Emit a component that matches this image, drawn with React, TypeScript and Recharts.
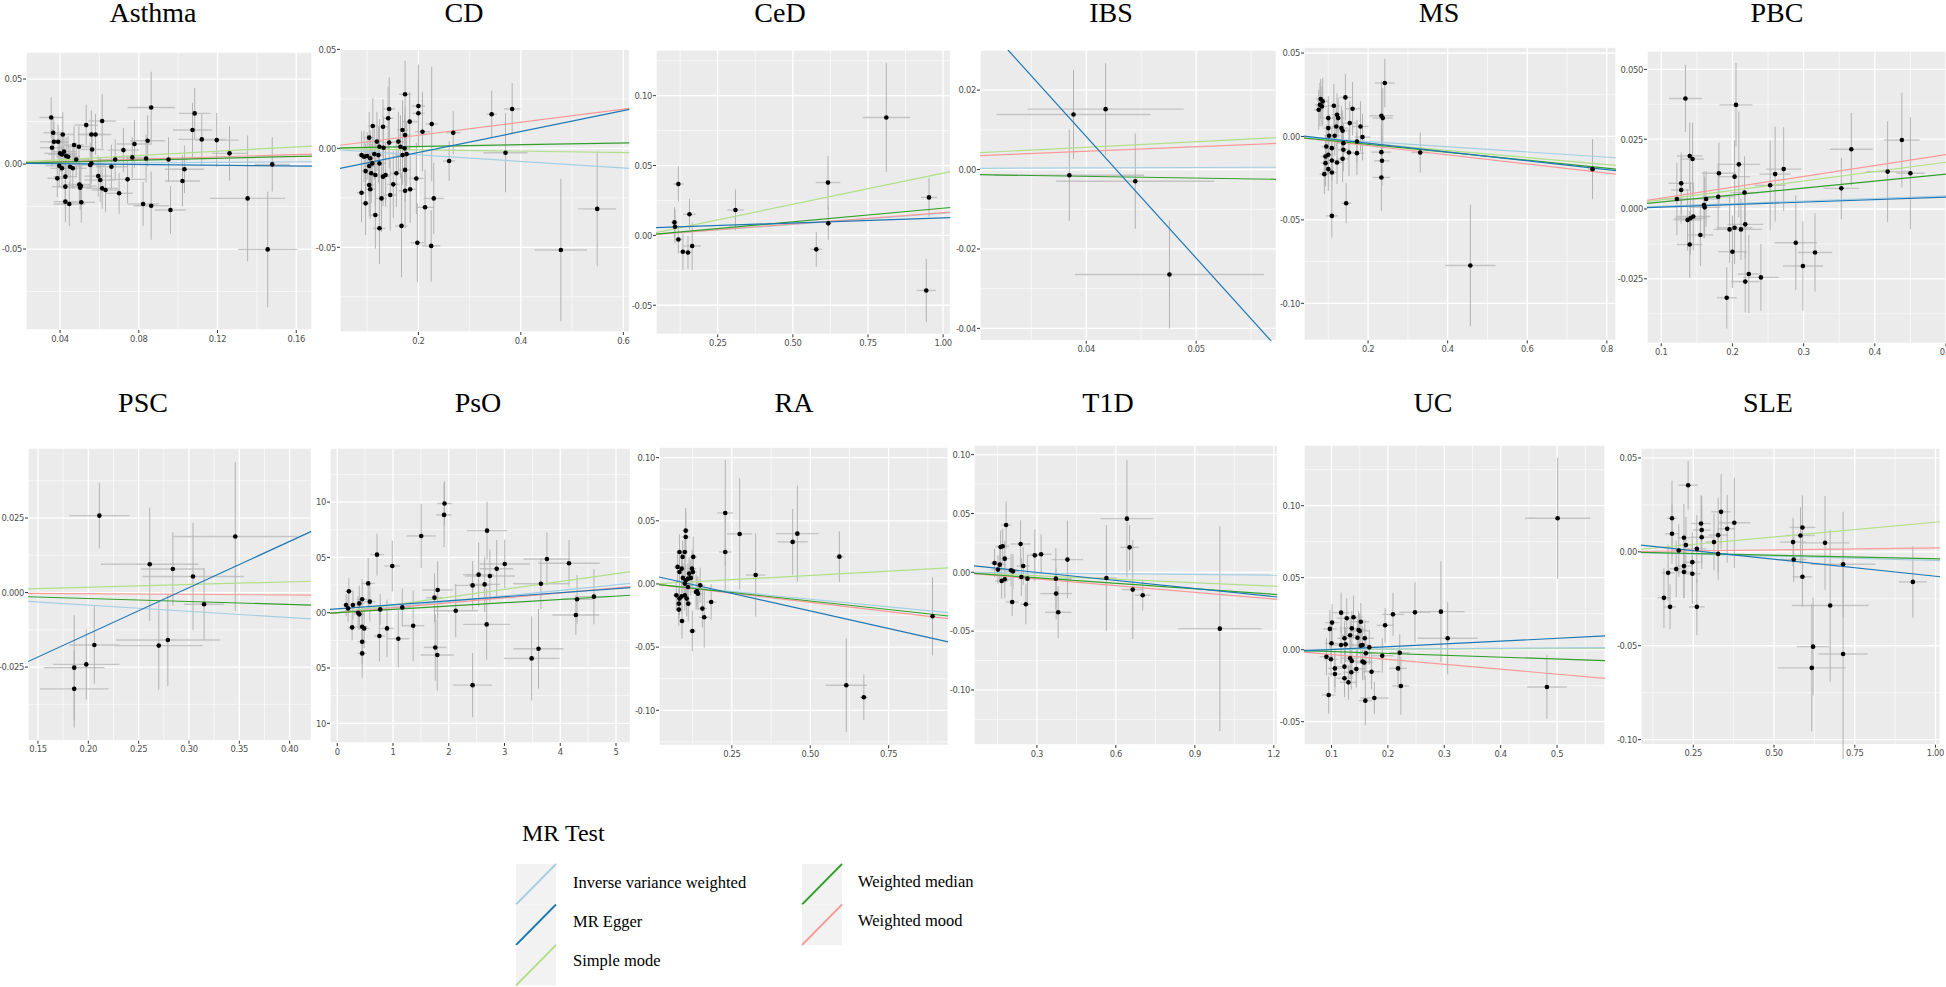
import React from 'react';
import { ScatterChart, Scatter, XAxis, YAxis, CartesianGrid, ErrorBar, ReferenceLine } from 'recharts';

// ---------- methods ----------
const methodNames = ['Inverse variance weighted', 'MR Egger', 'Simple mode', 'Weighted median', 'Weighted mood'];
const methodColors = ['#a6cee3', '#1f78b4', '#b2df8a', '#33a02c', '#fb9a99'];
const drawOrder = [2, 0, 4, 3, 1];

// ---------- data: [beta exposure, beta outcome, se exposure, se outcome] ----------
const asthmaPts = [
  [0.0355, 0.0274, 0.006, 0.012], [0.0365, 0.0184, 0.005, 0.010], [0.0359, 0.0096, 0.006, 0.011], [0.0369, 0.0131, 0.007, 0.012],
  [0.0390, 0.0131, 0.005, 0.010], [0.0414, 0.0174, 0.006, 0.013], [0.0400, 0.0063, 0.008, 0.011], [0.0410, 0.0057, 0.007, 0.012],
  [0.0420, 0.0073, 0.006, 0.010], [0.0431, 0.0047, 0.005, 0.011], [0.0441, 0.0043, 0.006, 0.012], [0.0396, -0.0010, 0.007, 0.013],
  [0.0410, -0.0025, 0.006, 0.012], [0.0386, -0.0084, 0.005, 0.011], [0.0427, -0.0074, 0.006, 0.012], [0.0427, -0.0133, 0.007, 0.013],
  [0.0427, -0.0221, 0.006, 0.012], [0.0447, -0.0235, 0.008, 0.013], [0.0451, -0.0016, 0.006, 0.011], [0.0465, -0.0025, 0.007, 0.012],
  [0.0471, 0.0112, 0.005, 0.011], [0.0496, 0.0102, 0.006, 0.012], [0.0482, 0.0027, 0.007, 0.010], [0.0498, -0.0120, 0.006, 0.011],
  [0.0506, -0.0129, 0.008, 0.012], [0.0502, -0.0139, 0.006, 0.013], [0.0508, -0.0225, 0.007, 0.012], [0.0533, 0.0229, 0.006, 0.012],
  [0.0559, 0.0174, 0.007, 0.014], [0.0580, 0.0174, 0.008, 0.012], [0.0563, 0.0086, 0.006, 0.011], [0.0559, 0.0004, 0.007, 0.012],
  [0.0553, -0.0006, 0.008, 0.013], [0.0594, -0.0071, 0.007, 0.012], [0.0604, -0.0094, 0.008, 0.013], [0.0614, 0.0253, 0.007, 0.016],
  [0.0614, -0.0143, 0.008, 0.012], [0.0631, -0.0153, 0.007, 0.013], [0.0661, -0.0016, 0.008, 0.013], [0.0680, 0.0027, 0.009, 0.012],
  [0.0700, -0.0172, 0.007, 0.012], [0.0722, 0.0082, 0.008, 0.013], [0.0743, -0.0090, 0.009, 0.014], [0.0767, 0.0039, 0.008, 0.012],
  [0.0778, 0.0118, 0.009, 0.014], [0.0822, -0.0235, 0.008, 0.013], [0.0837, 0.0033, 0.010, 0.014], [0.0845, 0.0137, 0.009, 0.015],
  [0.0863, 0.0333, 0.012, 0.021], [0.0863, -0.0245, 0.009, 0.020], [0.0951, 0.0027, 0.010, 0.013], [0.0961, -0.0270, 0.008, 0.014],
  [0.1022, -0.0100, 0.009, 0.015], [0.1032, -0.0031, 0.010, 0.014], [0.1073, 0.0200, 0.010, 0.016], [0.1084, 0.0298, 0.008, 0.015],
  [0.1120, 0.0145, 0.012, 0.015], [0.1196, 0.0141, 0.011, 0.016], [0.1261, 0.0063, 0.009, 0.016], [0.1353, -0.0202, 0.019, 0.037],
  [0.1455, -0.0502, 0.015, 0.034], [0.1478, -0.0002, 0.009, 0.016],
];
const asthmaSlope = [0.008, -0.011, 0.063, 0.028, 0.035];
const asthmaIcpt = [0, 0.00065, 0, 0, 0];

const cdPts = [
  [0.174, 0.0273, 0.012, 0.017], [0.143, 0.0199, 0.012, 0.016], [0.200, 0.0214, 0.013, 0.021], [0.200, 0.0177, 0.012, 0.017],
  [0.183, 0.0135, 0.015, 0.015], [0.226, 0.0123, 0.012, 0.029], [0.208, 0.0084, 0.015, 0.020], [0.268, 0.0079, 0.014, 0.011],
  [0.169, 0.0093, 0.011, 0.015], [0.174, 0.0067, 0.012, 0.014], [0.141, 0.0152, 0.010, 0.016], [0.131, 0.0109, 0.012, 0.014],
  [0.111, 0.0113, 0.010, 0.014], [0.104, 0.0054, 0.009, 0.013], [0.119, 0.0034, 0.011, 0.015], [0.124, 0.0008, 0.010, 0.014],
  [0.132, 0.0003, 0.012, 0.016], [0.143, 0.0029, 0.011, 0.013], [0.161, 0.0034, 0.012, 0.015], [0.165, 0.0008, 0.013, 0.016],
  [0.173, 0.0000, 0.012, 0.017], [0.169, -0.0034, 0.014, 0.015], [0.177, -0.0029, 0.013, 0.016], [0.089, -0.0034, 0.008, 0.012],
  [0.094, -0.0042, 0.009, 0.013], [0.100, -0.0039, 0.010, 0.012], [0.106, -0.0050, 0.009, 0.014], [0.114, -0.0029, 0.010, 0.013],
  [0.122, -0.0034, 0.011, 0.014], [0.104, -0.0089, 0.010, 0.015], [0.110, -0.0076, 0.011, 0.014], [0.124, -0.0076, 0.012, 0.015],
  [0.097, -0.0115, 0.009, 0.014], [0.108, -0.0126, 0.010, 0.015], [0.116, -0.0135, 0.011, 0.016], [0.131, -0.0143, 0.012, 0.015],
  [0.136, -0.0135, 0.011, 0.016], [0.157, -0.0126, 0.013, 0.017], [0.174, -0.0109, 0.012, 0.016], [0.196, -0.0152, 0.014, 0.018],
  [0.104, -0.0185, 0.010, 0.016], [0.106, -0.0207, 0.009, 0.015], [0.151, -0.0182, 0.012, 0.017], [0.089, -0.0224, 0.009, 0.015],
  [0.145, -0.0236, 0.012, 0.018], [0.128, -0.0253, 0.011, 0.017], [0.174, -0.0214, 0.013, 0.019], [0.184, -0.0207, 0.012, 0.017],
  [0.097, -0.0278, 0.009, 0.016], [0.230, -0.0253, 0.020, 0.018], [0.116, -0.0337, 0.010, 0.017], [0.213, -0.0298, 0.016, 0.019],
  [0.124, -0.0404, 0.012, 0.018], [0.167, -0.0392, 0.012, 0.026], [0.198, -0.0477, 0.013, 0.020], [0.225, -0.0493, 0.018, 0.018],
  [0.260, -0.0064, 0.012, 0.010], [0.343, 0.0172, 0.010, 0.012], [0.383, 0.0199, 0.016, 0.013], [0.370, -0.0022, 0.043, 0.020],
  [0.478, -0.0514, 0.051, 0.036], [0.549, -0.0306, 0.037, 0.029],
];
const cdSlope = [-0.0165, 0.0527, -0.0036, 0.0046, 0.033];
const cdIcpt = [0, -0.0126, 0, 0, 0];

const cedPts = [
  [0.119, 0.0368, 0.018, 0.0125], [0.106, 0.0093, 0.012, 0.011], [0.108, 0.0062, 0.010, 0.012], [0.119, -0.0029, 0.015, 0.010],
  [0.134, -0.0117, 0.012, 0.013], [0.151, -0.0122, 0.014, 0.012], [0.156, 0.0151, 0.020, 0.011], [0.165, -0.0076, 0.029, 0.017],
  [0.309, 0.0182, 0.027, 0.0146], [0.578, -0.0100, 0.020, 0.0125], [0.617, 0.0378, 0.041, 0.019], [0.618, 0.0086, 0.010, 0.012],
  [0.811, 0.0844, 0.079, 0.039], [0.953, 0.0272, 0.027, 0.0137], [0.944, -0.0394, 0.032, 0.0227],
];
const cedSlope = [0.0158, 0.00735, 0.0445, 0.0195, 0.0162];
const cedIcpt = [0, 0.0052, 0, 0, 0];

const ibsPts = [
  [0.03884, 0.01384, 0.0070, 0.0112], [0.04176, 0.0152, 0.0071, 0.0116], [0.03846, -0.00143, 0.0068, 0.0115],
  [0.04446, -0.00294, 0.0072, 0.012], [0.04757, -0.02643, 0.0086, 0.0136],
];
const ibsSlope = [0.01, -3.06, 0.14, -0.043, 0.115];
const ibsIcpt = [0, 0.1307, 0, 0, 0];

const msPts = [
  [0.242, 0.0320, 0.025, 0.0145], [0.143, 0.0234, 0.015, 0.014], [0.081, 0.0224, 0.012, 0.012], [0.086, 0.0210, 0.013, 0.014],
  [0.079, 0.0190, 0.012, 0.013], [0.084, 0.0180, 0.014, 0.012], [0.076, 0.0160, 0.012, 0.012], [0.114, 0.0184, 0.015, 0.013],
  [0.161, 0.0166, 0.018, 0.016], [0.122, 0.0130, 0.014, 0.013], [0.125, 0.0110, 0.015, 0.012], [0.100, 0.0110, 0.013, 0.013],
  [0.2335, 0.0124, 0.030, 0.021], [0.237, 0.0110, 0.025, 0.018], [0.154, 0.0080, 0.016, 0.013], [0.181, 0.0060, 0.020, 0.015],
  [0.120, 0.0060, 0.015, 0.012], [0.133, 0.0050, 0.016, 0.013], [0.136, 0.0034, 0.015, 0.012], [0.100, 0.0050, 0.013, 0.012],
  [0.116, 0.0004, 0.014, 0.012], [0.102, 0.0004, 0.012, 0.013], [0.186, -0.0004, 0.020, 0.014], [0.172, -0.0030, 0.018, 0.013],
  [0.138, -0.0040, 0.016, 0.012], [0.095, -0.0060, 0.012, 0.013], [0.109, -0.0070, 0.014, 0.012], [0.138, -0.0080, 0.015, 0.013],
  [0.2335, -0.0094, 0.025, 0.016], [0.152, -0.0096, 0.016, 0.014], [0.172, -0.0100, 0.018, 0.013], [0.100, -0.0110, 0.013, 0.012],
  [0.093, -0.0120, 0.012, 0.013], [0.331, -0.0096, 0.022, 0.012], [0.136, -0.0134, 0.015, 0.014], [0.235, -0.0146, 0.020, 0.015],
  [0.122, -0.0156, 0.014, 0.013], [0.109, -0.0144, 0.013, 0.012], [0.093, -0.0160, 0.012, 0.014], [0.100, -0.0196, 0.013, 0.013],
  [0.109, -0.0216, 0.014, 0.013], [0.090, -0.0226, 0.012, 0.012], [0.2335, -0.0246, 0.022, 0.020], [0.764, -0.0196, 0.012, 0.018],
  [0.145, -0.0400, 0.013, 0.012], [0.109, -0.0476, 0.015, 0.013], [0.457, -0.0773, 0.063, 0.0365],
];
const msSlope = [-0.0155, -0.0263, -0.0211, -0.0238, -0.0275];
const msIcpt = [0, 0.0012, 0, 0, 0];

const pbcPts = [
  [0.134, 0.0396, 0.023, 0.012], [0.205, 0.0373, 0.023, 0.015], [0.140, 0.0190, 0.018, 0.012], [0.144, 0.0179, 0.016, 0.013],
  [0.438, 0.0247, 0.025, 0.017], [0.367, 0.0214, 0.030, 0.013], [0.209, 0.0160, 0.030, 0.019], [0.272, 0.0143, 0.025, 0.015],
  [0.181, 0.0128, 0.024, 0.011], [0.260, 0.0125, 0.022, 0.017], [0.203, 0.0116, 0.022, 0.013], [0.418, 0.0134, 0.030, 0.018],
  [0.450, 0.0128, 0.020, 0.020], [0.128, 0.0092, 0.018, 0.011], [0.253, 0.0085, 0.022, 0.016], [0.353, 0.0074, 0.025, 0.011],
  [0.128, 0.0068, 0.014, 0.012], [0.217, 0.0059, 0.020, 0.013], [0.180, 0.0044, 0.022, 0.012], [0.122, 0.0036, 0.018, 0.013],
  [0.163, 0.0036, 0.020, 0.010], [0.160, 0.0014, 0.025, 0.012], [0.161, 0.0006, 0.022, 0.011], [0.137, -0.0039, 0.020, 0.011],
  [0.141, -0.0033, 0.022, 0.013], [0.145, -0.0027, 0.024, 0.012], [0.196, -0.0073, 0.022, 0.012], [0.203, -0.0067, 0.025, 0.013],
  [0.212, -0.0073, 0.030, 0.011], [0.218, -0.0055, 0.025, 0.012], [0.155, -0.0093, 0.018, 0.011], [0.140, -0.0127, 0.018, 0.012],
  [0.289, -0.0121, 0.030, 0.017], [0.316, -0.0156, 0.024, 0.014], [0.200, -0.0153, 0.020, 0.013], [0.299, -0.0204, 0.028, 0.016],
  [0.223, -0.0233, 0.015, 0.014], [0.240, -0.0245, 0.025, 0.012], [0.218, -0.0260, 0.020, 0.011], [0.192, -0.0318, 0.014, 0.011],
];
const pbcSlope = [0.0095, 0.0089, 0.0335, 0.025, 0.039];
const pbcIcpt = [0, -0.0002, 0, 0, 0];

const pscPts = [
  [0.211, 0.0258, 0.030, 0.011], [0.261, 0.0095, 0.0485, 0.019], [0.284, 0.0079, 0.0315, 0.0123], [0.304, 0.0054, 0.0505, 0.018],
  [0.346, 0.0188, 0.062, 0.025], [0.315, -0.0039, 0.020, 0.012], [0.206, -0.0176, 0.025, 0.013], [0.270, -0.0178, 0.0435, 0.0148],
  [0.279, -0.0159, 0.0515, 0.0155], [0.198, -0.0241, 0.033, 0.0118], [0.186, -0.0252, 0.030, 0.0176], [0.186, -0.0323, 0.034, 0.013],
];
const pscSlope = [-0.021, 0.1552, 0.009, -0.01, -0.002];
const pscIcpt = [0, -0.0449, 0, 0, 0];

const psoPts = [
  [1.924, 0.0987, 0.13, 0.020], [1.916, 0.0884, 0.14, 0.029], [2.687, 0.0742, 0.36, 0.026], [1.506, 0.0694, 0.26, 0.029],
  [0.713, 0.0525, 0.12, 0.019], [3.761, 0.0486, 0.42, 0.024], [0.987, 0.0422, 0.14, 0.023], [4.157, 0.0447, 0.55, 0.021],
  [3.004, 0.0440, 0.45, 0.022], [2.860, 0.0398, 0.30, 0.026], [2.738, 0.0332, 0.45, 0.024], [2.536, 0.0344, 0.28, 0.029],
  [2.644, 0.0256, 0.28, 0.025], [2.428, 0.0247, 0.32, 0.022], [3.653, 0.0262, 0.50, 0.023], [0.555, 0.0265, 0.12, 0.023],
  [1.801, 0.0205, 0.28, 0.026], [1.744, 0.0136, 0.15, 0.022], [0.209, 0.0193, 0.07, 0.012], [4.604, 0.0145, 0.30, 0.025],
  [4.301, 0.0121, 0.28, 0.022], [0.584, 0.0100, 0.10, 0.018], [0.281, 0.0069, 0.08, 0.013], [0.159, 0.0069, 0.06, 0.010],
  [0.396, 0.0084, 0.10, 0.016], [0.447, 0.0121, 0.10, 0.018], [0.195, 0.0039, 0.06, 0.012], [0.771, 0.0030, 0.15, 0.014],
  [1.167, 0.0048, 0.16, 0.017], [2.125, 0.0018, 0.40, 0.024], [0.375, 0.0000, 0.08, 0.015], [0.396, -0.0015, 0.10, 0.014],
  [4.280, -0.0021, 0.42, 0.018], [2.680, -0.0106, 0.42, 0.032], [1.362, -0.0118, 0.20, 0.032], [0.267, -0.0133, 0.08, 0.012],
  [0.447, -0.0127, 0.10, 0.017], [0.483, -0.0142, 0.10, 0.018], [0.893, -0.0142, 0.12, 0.026], [0.756, -0.0211, 0.10, 0.023],
  [1.095, -0.0235, 0.20, 0.026], [0.447, -0.0262, 0.08, 0.020], [1.758, -0.0314, 0.20, 0.030], [3.610, -0.0326, 0.45, 0.036],
  [0.447, -0.0368, 0.08, 0.022], [1.794, -0.0383, 0.30, 0.032], [3.487, -0.0413, 0.50, 0.038], [2.428, -0.0655, 0.35, 0.029],
];
const psoSlope = [0.00504, 0.00364, 0.00705, 0.003, 0.00447];
const psoIcpt = [0, 0.0035, 0, 0, 0];

const raPts = [
  [0.103, 0.0422, 0.012, 0.018], [0.103, 0.0372, 0.014, 0.020], [0.100, 0.0253, 0.011, 0.015], [0.083, 0.0253, 0.010, 0.014],
  [0.127, 0.0214, 0.012, 0.016], [0.093, 0.0214, 0.010, 0.013], [0.077, 0.0135, 0.011, 0.012], [0.090, 0.0121, 0.012, 0.013],
  [0.123, 0.0121, 0.014, 0.015], [0.083, 0.0095, 0.011, 0.012], [0.114, 0.0082, 0.012, 0.013], [0.126, 0.0095, 0.013, 0.014],
  [0.094, 0.0048, 0.012, 0.012], [0.103, 0.0029, 0.011, 0.013], [0.110, 0.0042, 0.012, 0.012], [0.119, 0.0048, 0.013, 0.014],
  [0.100, 0.0003, 0.012, 0.013], [0.110, -0.0024, 0.013, 0.012], [0.149, -0.0011, 0.015, 0.014], [0.073, -0.0090, 0.010, 0.012],
  [0.090, -0.0098, 0.011, 0.013], [0.100, -0.0090, 0.012, 0.012], [0.136, -0.0063, 0.013, 0.014], [0.142, -0.0077, 0.014, 0.013],
  [0.139, -0.0058, 0.012, 0.012], [0.083, -0.0116, 0.011, 0.013], [0.106, -0.0116, 0.012, 0.014], [0.081, -0.0156, 0.010, 0.012],
  [0.111, -0.0156, 0.012, 0.014], [0.081, -0.0203, 0.011, 0.013], [0.156, -0.0195, 0.015, 0.015], [0.184, -0.0143, 0.016, 0.014],
  [0.091, -0.0293, 0.011, 0.014], [0.162, -0.0264, 0.017, 0.024], [0.124, -0.0372, 0.012, 0.016], [0.229, 0.0562, 0.025, 0.042],
  [0.229, 0.0253, 0.020, 0.030], [0.275, 0.0396, 0.040, 0.044], [0.326, 0.0071, 0.031, 0.033], [0.444, 0.0333, 0.048, 0.026],
  [0.459, 0.0398, 0.068, 0.038], [0.593, 0.0216, 0.014, 0.020], [0.615, -0.0802, 0.066, 0.037], [0.671, -0.0897, 0.013, 0.018],
  [0.890, -0.0256, 0.010, 0.031],
];
const raSlope = [-0.0241, -0.0557, 0.0135, -0.027, -0.0292];
const raIcpt = [0, 0.0065, 0, 0, 0];

const t1dPts = [
  [0.183, 0.0402, 0.020, 0.020], [0.642, 0.0456, 0.100, 0.050], [0.170, 0.0221, 0.025, 0.015], [0.162, 0.0215, 0.020, 0.014],
  [0.238, 0.0241, 0.038, 0.020], [0.652, 0.0212, 0.035, 0.019], [0.178, 0.0116, 0.020, 0.015], [0.139, 0.0079, 0.015, 0.012],
  [0.159, 0.0065, 0.020, 0.013], [0.248, 0.0054, 0.025, 0.016], [0.292, 0.0144, 0.030, 0.022], [0.316, 0.0153, 0.040, 0.017],
  [0.416, 0.0108, 0.060, 0.033], [0.152, 0.0023, 0.025, 0.012], [0.202, 0.0017, 0.030, 0.014], [0.209, 0.0008, 0.025, 0.015],
  [0.564, -0.0048, 0.040, 0.045], [0.372, -0.0054, 0.060, 0.026], [0.241, -0.0040, 0.030, 0.016], [0.264, -0.0054, 0.035, 0.020],
  [0.178, -0.0059, 0.020, 0.016], [0.166, -0.0074, 0.025, 0.015], [0.664, -0.0147, 0.040, 0.042], [0.206, -0.0252, 0.025, 0.012],
  [0.258, -0.0272, 0.020, 0.017], [0.373, -0.0181, 0.060, 0.022], [0.702, -0.0195, 0.030, 0.013], [0.381, -0.0340, 0.050, 0.022],
  [0.995, -0.0479, 0.158, 0.087],
];
const t1dSlope = [-0.002, -0.0229, -0.0098, -0.0156, -0.019];
const t1dIcpt = [0, 0.0068, 0, 0, 0];

const ucPts = [
  [0.501, 0.0912, 0.058, 0.042], [0.117, 0.0257, 0.015, 0.014], [0.248, 0.0259, 0.028, 0.021], [0.294, 0.0264, 0.042, 0.035],
  [0.139, 0.0225, 0.016, 0.015], [0.127, 0.0218, 0.018, 0.014], [0.152, 0.0194, 0.015, 0.013], [0.101, 0.0188, 0.012, 0.013],
  [0.209, 0.0245, 0.020, 0.015], [0.195, 0.0169, 0.015, 0.012], [0.097, 0.0144, 0.012, 0.013], [0.136, 0.0148, 0.015, 0.012],
  [0.148, 0.0137, 0.014, 0.013], [0.150, 0.0130, 0.016, 0.012], [0.133, 0.0100, 0.015, 0.012], [0.146, 0.0083, 0.014, 0.013],
  [0.123, 0.0079, 0.013, 0.012], [0.159, 0.0079, 0.016, 0.013], [0.306, 0.0079, 0.053, 0.025], [0.117, 0.0032, 0.014, 0.013],
  [0.125, 0.0037, 0.015, 0.012], [0.100, 0.0044, 0.012, 0.013], [0.152, 0.0028, 0.016, 0.012], [0.155, 0.0032, 0.015, 0.013],
  [0.167, 0.0016, 0.016, 0.012], [0.161, -0.0025, 0.015, 0.013], [0.221, -0.0021, 0.018, 0.013], [0.190, -0.0042, 0.020, 0.012],
  [0.091, -0.0049, 0.012, 0.013], [0.099, -0.0067, 0.012, 0.012], [0.133, -0.0060, 0.015, 0.013], [0.136, -0.0079, 0.014, 0.012],
  [0.155, -0.0083, 0.016, 0.013], [0.158, -0.0090, 0.015, 0.012], [0.106, -0.0130, 0.012, 0.013], [0.123, -0.0118, 0.014, 0.012],
  [0.144, -0.0134, 0.015, 0.013], [0.135, -0.0157, 0.014, 0.012], [0.218, -0.0130, 0.016, 0.014], [0.106, -0.0169, 0.012, 0.013],
  [0.171, -0.0153, 0.016, 0.012], [0.123, -0.0199, 0.014, 0.013], [0.130, -0.0227, 0.015, 0.012], [0.095, -0.0315, 0.012, 0.013],
  [0.223, -0.0252, 0.015, 0.020], [0.482, -0.0259, 0.035, 0.022], [0.176, -0.0336, 0.025, 0.011], [0.160, -0.0354, 0.012, 0.017],
];
const ucSlope = [0.0024, 0.0195, 0.0015, -0.013, -0.034];
const ucIcpt = [0, -0.0019, 0, 0, 0];

const slePts = [
  [0.234, 0.0355, 0.030, 0.013], [0.336, 0.0213, 0.030, 0.020], [0.184, 0.0179, 0.015, 0.020], [0.377, 0.0155, 0.050, 0.024],
  [0.274, 0.0151, 0.030, 0.015], [0.355, 0.0123, 0.025, 0.018], [0.588, 0.0130, 0.040, 0.017], [0.276, 0.0116, 0.028, 0.018],
  [0.184, 0.0096, 0.022, 0.016], [0.327, 0.0089, 0.030, 0.020], [0.582, 0.0087, 0.045, 0.015], [0.276, 0.0078, 0.035, 0.017],
  [0.221, 0.0075, 0.020, 0.018], [0.314, 0.0052, 0.025, 0.015], [0.559, 0.0052, 0.040, 0.013], [0.658, 0.0048, 0.075, 0.025],
  [0.227, 0.0036, 0.020, 0.015], [0.261, 0.0016, 0.030, 0.018], [0.205, 0.0007, 0.020, 0.014], [0.327, -0.0011, 0.025, 0.014],
  [0.561, -0.0041, 0.040, 0.012], [0.247, -0.0055, 0.025, 0.016], [0.221, -0.0076, 0.025, 0.017], [0.714, -0.0066, 0.100, 0.028],
  [0.197, -0.0091, 0.020, 0.015], [0.221, -0.0107, 0.025, 0.014], [0.172, -0.0112, 0.020, 0.015], [0.247, -0.0117, 0.025, 0.016],
  [0.588, -0.0133, 0.030, 0.016], [0.930, -0.0160, 0.043, 0.019], [0.159, -0.0245, 0.020, 0.016], [0.178, -0.0293, 0.018, 0.012],
  [0.261, -0.0293, 0.025, 0.015], [0.674, -0.0286, 0.119, 0.0405], [0.621, -0.0505, 0.050, 0.026], [0.714, -0.0544, 0.076, 0.056],
  [0.617, -0.0618, 0.105, 0.0338],
];
const sleSlope = [-0.0046, -0.0182, 0.0158, -0.0037, 0.0021];
const sleIcpt = [0, 0.0052, 0, 0, 0];

// ---------- axes (domains, ticks, minor grid) ----------
const panels = [
  { title: 'Asthma', pts: asthmaPts, slope: asthmaSlope, icpt: asthmaIcpt, xd: [0.0227, 0.168], yd: [-0.0976, 0.0659],
    xt: [0.04, 0.08, 0.12, 0.16], yt: [-0.05, 0, 0.05], xm: [0.06, 0.10, 0.14], ym: [-0.075, -0.025, 0.025], xdec: 2, ydec: 2 },
  { title: 'CD', pts: cdPts, slope: cdSlope, icpt: cdIcpt, xd: [0.047, 0.612], yd: [-0.0928, 0.0502],
    xt: [0.2, 0.4, 0.6], yt: [-0.05, 0, 0.05], xm: [0.1, 0.3, 0.5], ym: [-0.075, -0.025, 0.025], xdec: 1, ydec: 2 },
  { title: 'CeD', pts: cedPts, slope: cedSlope, icpt: cedIcpt, xd: [0.0446, 1.0246], yd: [-0.0708, 0.1327],
    xt: [0.25, 0.5, 0.75, 1.0], yt: [-0.05, 0, 0.05, 0.1], xm: [0.125, 0.375, 0.625, 0.875], ym: [-0.025, 0.025, 0.075, 0.125], xdec: 2, ydec: 2 },
  { title: 'IBS', pts: ibsPts, slope: ibsSlope, icpt: ibsIcpt, xd: [0.03033, 0.0573], yd: [-0.0431, 0.0301],
    xt: [0.04, 0.05], yt: [-0.04, -0.02, 0, 0.02], xm: [0.035, 0.045, 0.055], ym: [-0.03, -0.01, 0.01], xdec: 2, ydec: 2 },
  { title: 'MS', pts: msPts, slope: msSlope, icpt: msIcpt, xd: [0.039, 0.823], yd: [-0.1222, 0.0536],
    xt: [0.2, 0.4, 0.6, 0.8], yt: [-0.1, -0.05, 0, 0.05], xm: [0.1, 0.3, 0.5, 0.7], ym: [-0.075, -0.025, 0.025], xdec: 1, ydec: 2 },
  { title: 'PBC', pts: pbcPts, slope: pbcSlope, icpt: pbcIcpt, xd: [0.080, 0.5], yd: [-0.0481, 0.0566],
    xt: [0.1, 0.2, 0.3, 0.4, 0.5], yt: [-0.025, 0, 0.025, 0.05], xm: [0.15, 0.25, 0.35, 0.45], ym: [-0.0375, -0.0125, 0.0125, 0.0375], xdec: 1, ydec: 3 },
  { title: 'PSC', pts: pscPts, slope: pscSlope, icpt: pscIcpt, xd: [0.1401, 0.4216], yd: [-0.0497, 0.0485],
    xt: [0.15, 0.2, 0.25, 0.3, 0.35, 0.4], yt: [-0.025, 0, 0.025], xm: [0.175, 0.225, 0.275, 0.325, 0.375], ym: [-0.0375, -0.0125, 0.0125, 0.0375], xdec: 2, ydec: 3 },
  { title: 'PsO', pts: psoPts, slope: psoSlope, icpt: psoIcpt, xd: [-0.13, 5.26], yd: [-0.1178, 0.1489],
    xt: [0, 1, 2, 3, 4, 5], yt: [-0.1, -0.05, 0, 0.05, 0.1], xm: [0.5, 1.5, 2.5, 3.5, 4.5], ym: [-0.075, -0.025, 0.025, 0.075, 0.125], xdec: 0, ydec: 2 },
  { title: 'RA', pts: raPts, slope: raSlope, icpt: raIcpt, xd: [0.0177, 0.940], yd: [-0.1277, 0.1084],
    xt: [0.25, 0.5, 0.75], yt: [-0.1, -0.05, 0, 0.05, 0.1], xm: [0.125, 0.375, 0.625, 0.875], ym: [-0.125, -0.075, -0.025, 0.025, 0.075], xdec: 2, ydec: 2 },
  { title: 'T1D', pts: t1dPts, slope: t1dSlope, icpt: t1dIcpt, xd: [0.061, 1.214], yd: [-0.1468, 0.1082],
    xt: [0.3, 0.6, 0.9, 1.2], yt: [-0.1, -0.05, 0, 0.05, 0.1], xm: [0.15, 0.45, 0.75, 1.05], ym: [-0.125, -0.075, -0.025, 0.025, 0.075], xdec: 1, ydec: 2 },
  { title: 'UC', pts: ucPts, slope: ucSlope, icpt: ucIcpt, xd: [0.0512, 0.585], yd: [-0.0662, 0.1421],
    xt: [0.1, 0.2, 0.3, 0.4, 0.5], yt: [-0.05, 0, 0.05, 0.1], xm: [0.15, 0.25, 0.35, 0.45, 0.55], ym: [-0.025, 0.025, 0.075, 0.125], xdec: 1, ydec: 2 },
  { title: 'SLE', pts: slePts, slope: sleSlope, icpt: sleIcpt, xd: [0.088, 1.015], yd: [-0.1027, 0.0553],
    xt: [0.25, 0.5, 0.75, 1.0], yt: [-0.1, -0.05, 0, 0.05], xm: [0.125, 0.375, 0.625, 0.875], ym: [-0.075, -0.025, 0.025], xdec: 2, ydec: 2 },
];

// ---------- layout (plot boxes: left, top, right, bottom; title centre, baseline) ----------
const layout = [
  { box: [26, 52, 312, 330], tx: 153, ty: 22 },
  { box: [339.5, 49.3, 629, 332.3], tx: 464, ty: 22 },
  { box: [655.5, 50, 950, 334.3], tx: 780, ty: 22 },
  { box: [979.6, 50, 1276, 340.7], tx: 1111, ty: 22 },
  { box: [1304, 47.3, 1616, 340.7], tx: 1439, ty: 22 },
  { box: [1647, 51, 1946, 343.3], tx: 1777, ty: 22 },
  { box: [28.3, 448.3, 311.7, 741], tx: 143, ty: 411.5, cover: true },
  { box: [329.5, 448.3, 630, 743.3], tx: 478, ty: 411.5 },
  { box: [658.8, 446.7, 948, 745], tx: 794, ty: 411.5 },
  { box: [973.5, 445, 1277, 745], tx: 1108, ty: 411.5 },
  { box: [1304, 445, 1605, 745], tx: 1433, ty: 411.5 },
  { box: [1640.7, 448.3, 1940, 745], tx: 1768, ty: 411.5 },
];
const paintOrder = [0, 1, 2, 3, 4, 5, 7, 6, 8, 9, 10, 11];

const TICK_FONT = '"Liberation Sans Narrow", "DejaVu Sans Condensed", "Arial Narrow", "Liberation Sans", Arial, sans-serif';
const SERIF = '"Liberation Serif", "Times New Roman", Times, serif';

const Dot = (p: any) => <circle cx={p.cx} cy={p.cy} r={2.3} fill="#000000" />;

function Panel({ cfg, lay }: { cfg: any; lay: any }) {
  const YW = 40, XH = 24, MT = 10, MR = 4;
  const [L, T, R, B] = lay.box;
  const width = R - L + YW + MR;
  const height = B - T + XH + MT;
  const data = cfg.pts.map((p: number[]) => ({ x: p[0], y: p[1], ex: p[2], ey: p[3] }));
  const [x0, x1] = cfg.xd;
  const tickStyle = { fill: '#4d4d4d', fontSize: 9.3, fontFamily: TICK_FONT, letterSpacing: '-0.3px' };
  return (
    <div style={{ position: 'absolute', left: L - YW, top: T - MT, width, height, background: lay.cover ? '#ffffff' : 'transparent' }}>
      <ScatterChart width={width} height={height} margin={{ top: MT, right: MR, bottom: 0, left: 0 }}>
        <CartesianGrid fill="#ebebeb" fillOpacity={1} stroke="#ffffff" strokeWidth={1.3} />
        <XAxis type="number" dataKey="x" domain={cfg.xd} allowDataOverflow ticks={cfg.xt} interval={0}
          tickFormatter={(v: number) => v.toFixed(cfg.xdec)} height={XH} axisLine={false} tickSize={3}
          tickLine={{ stroke: '#333333' }} tick={tickStyle} />
        <YAxis type="number" dataKey="y" domain={cfg.yd} allowDataOverflow ticks={cfg.yt} interval={0}
          tickFormatter={(v: number) => v.toFixed(cfg.ydec)} width={YW} axisLine={false} tickSize={3} tickMargin={1}
          tickLine={{ stroke: '#333333' }} tick={tickStyle} />
        {cfg.xm.map((v: number) => (
          <ReferenceLine key={'xm' + v} x={v} stroke="#ffffff" strokeWidth={0.6} />
        ))}
        {cfg.ym.map((v: number) => (
          <ReferenceLine key={'ym' + v} y={v} stroke="#ffffff" strokeWidth={0.6} />
        ))}
        <Scatter data={data} isAnimationActive={false} shape={Dot}>
          <ErrorBar dataKey="ex" direction="x" width={0} stroke="#c4c4c4" strokeWidth={1.4} isAnimationActive={false} />
          <ErrorBar dataKey="ey" direction="y" width={0} stroke="#b3b3b3" strokeWidth={1} isAnimationActive={false} />
        </Scatter>
        {drawOrder.map((i) => {
          const b = cfg.slope[i];
          const a = cfg.icpt[i];
          return (
            <ReferenceLine key={'m' + i} segment={[{ x: x0, y: a + b * x0 }, { x: x1, y: a + b * x1 }]}
              stroke={methodColors[i]} strokeWidth={1.2} ifOverflow="hidden" />
          );
        })}
      </ScatterChart>
    </div>
  );
}

export default function App() {
  const keyY = [864, 904.5, 945];
  const labY = [888, 927, 966];
  return (
    <div style={{ position: 'absolute', left: 0, top: 0, width: 1946, height: 987, overflow: 'hidden', background: '#ffffff' }}>
      {paintOrder.map((i) => (
        <Panel key={panels[i].title} cfg={panels[i]} lay={layout[i]} />
      ))}
      <svg width={1946} height={987} style={{ position: 'absolute', left: 0, top: 0, pointerEvents: 'none' }}>
        {panels.map((p, i) => (
          <text key={p.title} x={layout[i].tx} y={layout[i].ty} textAnchor="middle" fontFamily={SERIF} fontSize={28} fill="#000">
            {p.title}
          </text>
        ))}
        <text x={522} y={841} fontFamily={SERIF} fontSize={24} fill="#000">MR Test</text>
        {methodNames.map((n, i) => {
          const col = i < 3 ? 0 : 1;
          const row = i < 3 ? i : i - 3;
          const kx = col === 0 ? 516 : 802;
          const ky = keyY[row];
          return (
            <g key={n}>
              <rect x={kx} y={ky} width={40} height={40.5} fill="#f2f2f2" />
              <line x1={kx} y1={ky + 40.5} x2={kx + 40} y2={ky} stroke={methodColors[i]} strokeWidth={1.8} />
              <text x={col === 0 ? 573 : 858} y={labY[row] - (col === 1 ? 1 : 0)} fontFamily={SERIF} fontSize={16.5} fill="#000">
                {n}
              </text>
            </g>
          );
        })}
      </svg>
    </div>
  );
}
